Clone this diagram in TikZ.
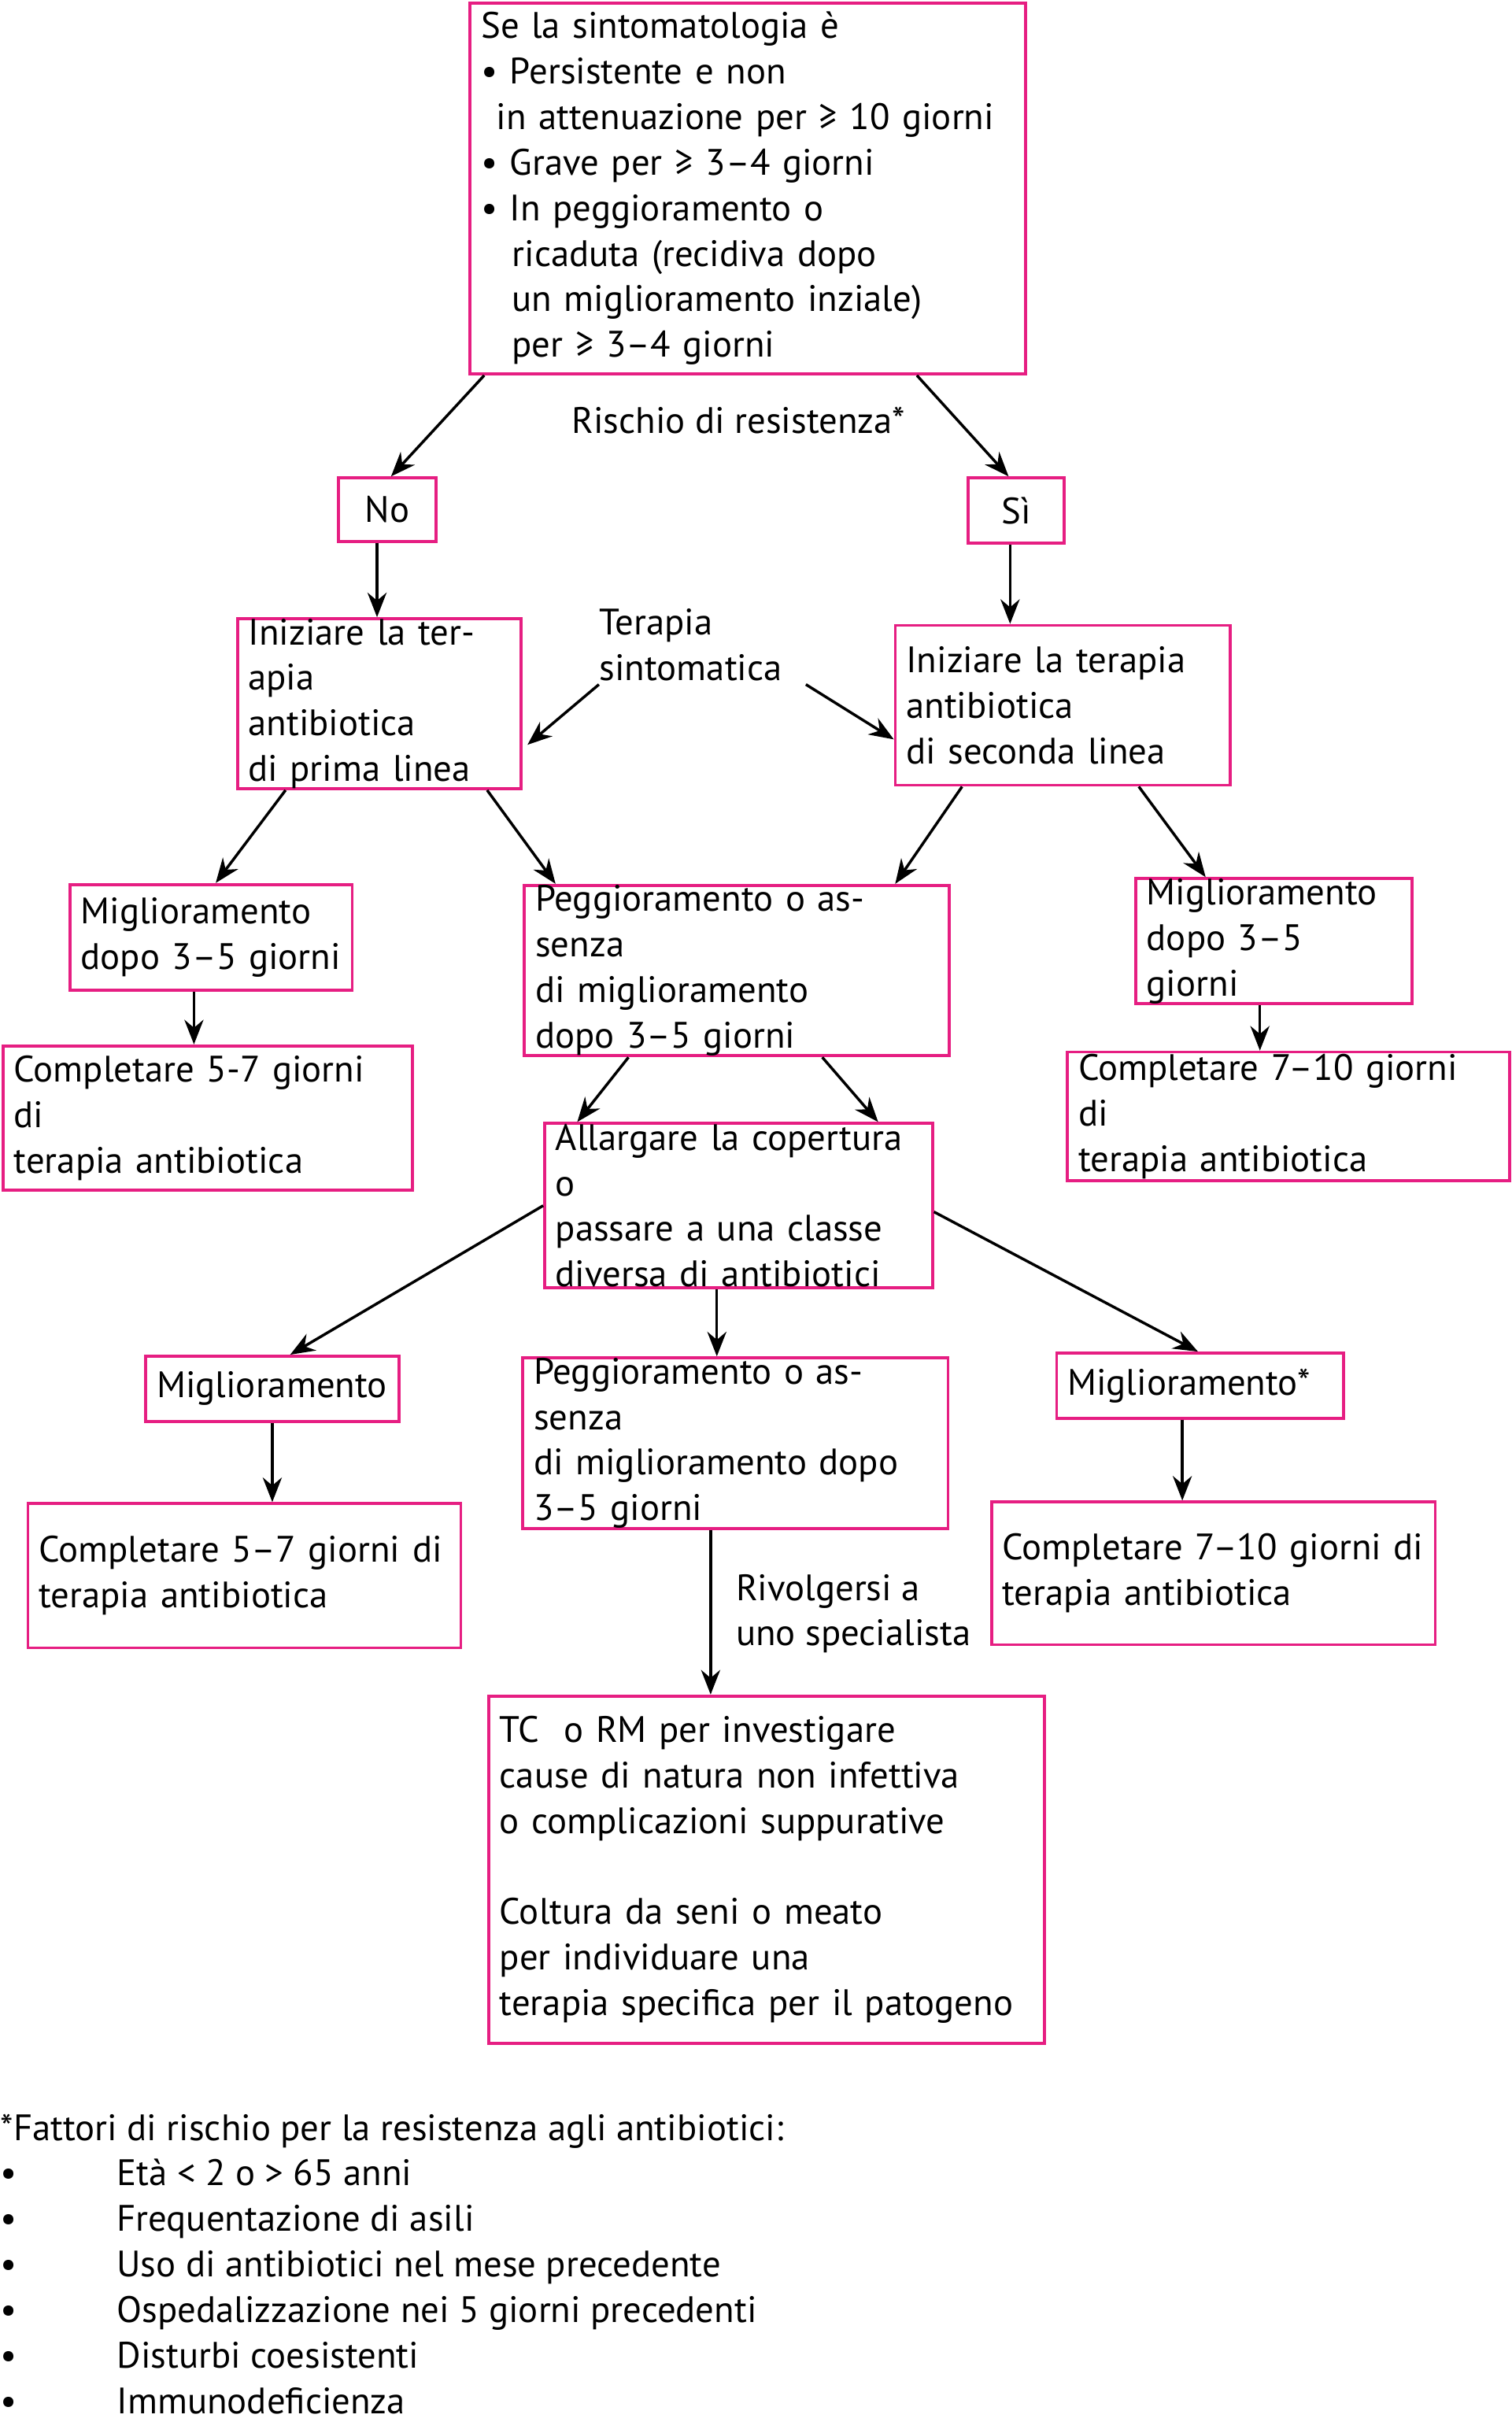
\documentclass[tikz,border=0pt]{standalone}
\usepackage{fontspec}
\setmainfont{PT Sans}
\usetikzlibrary{arrows.meta}
\definecolor{boxpink}{RGB}{230,30,130}

\begin{document}
\begin{tikzpicture}[
    x = 0.02cm, y = -0.02cm,
    font = \fontsize{13.5}{16.7}\selectfont,
    box/.style = {draw = boxpink, line width = 1.1pt,
      inner xsep = 0.14cm, inner ysep = 0pt, align = left},
    small/.style = {box, align = center},
    label/.style = {inner sep = 0pt, align = left},
    arr/.style = {line width = 1pt, -{Stealth[length = 9pt, width = 7pt]}},
    ]

    \useasboundingbox (0, 0) rectangle (974, 1568);

    % boxes
    \node at (482, 121.5) [box, text width = 6.88cm, minimum height = 4.78cm, name = top]
    {Se la sintomatologia è\\
      \textbullet\ Persistente e non\\
      \hspace*{0.2cm}in attenuazione per ≥ 10 giorni\\
      \textbullet\ Grave per ≥ 3–4 giorni\\
      \textbullet\ In peggioramento o\\
      \hspace*{0.4cm}ricaduta (recidiva dopo\\
      \hspace*{0.4cm}un miglioramento inziale)\\
      \hspace*{0.4cm}per ≥ 3–4 giorni};

    \node at (249.5, 328.5) [small, minimum width = 1.26cm, minimum height = 0.82cm, name = No] {No};
    \node at (655, 329) [small, minimum width = 1.24cm, minimum height = 0.84cm, name = Si] {Sì};

    \node at (244.5, 453.5) [box, text width = 3.38cm, minimum height = 2.02cm, name = L2]
    {Iniziare la terapia\\ antibiotica\\ di prima linea};
    \node at (685, 454.5) [box, text width = 4.04cm, minimum height = 2.06cm, name = R2]
    {Iniziare la terapia\\ antibiotica\\ di seconda linea};

    \node at (136, 604) [box, text width = 3.36cm, minimum height = 1.36cm, name = M1L]
    {Miglioramento\\ dopo 3–5 giorni};
    \node at (475, 625.5) [box, text width = 5.20cm, minimum height = 2.10cm, name = Mid]
    {Peggioramento o assenza\\ di miglioramento\\ dopo 3–5 giorni};
    \node at (821, 606.5) [box, text width = 3.28cm, minimum height = 1.38cm, name = M1R]
    {Miglioramento\\ dopo 3–5 giorni};

    \node at (134, 720.5) [box, text width = 5.00cm, minimum height = 1.86cm, name = C1L]
    {Completare 5-7 giorni di\\ terapia antibiotica};
    \node at (830.5, 719.5) [box, text width = 5.42cm, minimum height = 1.66cm, name = C1R]
    {Completare 7–10 giorni di\\ terapia antibiotica};

    \node at (476, 777) [box, text width = 4.72cm, minimum height = 2.12cm, name = Allarg]
    {Allargare la copertura o\\ passare a una classe\\ diversa di antibiotici};

    \node at (175.5, 895) [box, text width = 2.98cm, minimum height = 0.84cm, name = MigL]
    {Miglioramento};
    \node at (474, 930) [box, text width = 5.20cm, minimum height = 2.12cm, name = Pegg2]
    {Peggioramento o assenza\\ di miglioramento dopo\\ 3–5 giorni};
    \node at (773.5, 893) [box, text width = 3.42cm, minimum height = 0.84cm, name = MigR]
    {Miglioramento*};

    \node at (157.5, 1015.5) [box, text width = 5.30cm, minimum height = 1.86cm, name = C2L]
    {Completare 5–7 giorni di\\ terapia antibiotica};
    \node at (782, 1014) [box, text width = 5.44cm, minimum height = 1.84cm, name = C2R]
    {Completare 7–10 giorni di\\ terapia antibiotica};

    \node at (494, 1205) [box, text width = 6.88cm, minimum height = 4.48cm, name = TC]
    {TC\ \ o RM per investigare\\ cause di natura non infettiva\\ o complicazioni suppurative\\[16.7pt]
      Coltura da seni o meato\\ per individuare una\\ terapia specifica per il patogeno};

    % free texts
    \node at (476, 271) [label, name = rischio] {Rischio di resistenza*};
    \node at (386, 392) [label, anchor = north west, name = ter] {Terapia\\ sintomatica};
    \node at (474, 1040) [label, anchor = west, name = rivolg] {Rivolgersi a\\ uno specialista};

    \node at (0, 1362) [label, anchor = north west, name = note]
    {*Fattori di rischio per la resistenza agli antibiotici:\\
      \makebox[1.5cm][l]{\textbullet}Età < 2 o > 65 anni\\
      \makebox[1.5cm][l]{\textbullet}Frequentazione di asili\\
      \makebox[1.5cm][l]{\textbullet}Uso di antibiotici nel mese precedente\\
      \makebox[1.5cm][l]{\textbullet}Ospedalizzazione nei 5 giorni precedenti\\
      \makebox[1.5cm][l]{\textbullet}Disturbi coesistenti\\
      \makebox[1.5cm][l]{\textbullet}Immunodeficienza};

    % connectors
    \draw [arr] ([xshift = 0.2cm]top.south west) -- ([xshift = 0.7cm]No.north west);
    \draw [arr] ([xshift = -1.42cm]top.south east) -- ([xshift = 0.54cm]Si.north west);

    \coordinate (vNo) at ([xshift = -0.13cm]No.south);
    \draw [arr] (vNo) -- (vNo |- L2.north);
    \coordinate (vSi) at ([xshift = -0.08cm]Si.south);
    \draw [arr] (vSi) -- (vSi |- R2.north);

    \draw [arr] ([yshift = -0.04cm]ter.south west) -- ([xshift = 0.06cm, yshift = -0.53cm]L2.east);
    \draw [arr] ([xshift = 0.3cm, yshift = -0.04cm]ter.south east) -- ([yshift = -0.44cm]R2.west);

    \draw [arr] ([xshift = 0.64cm]L2.south west) -- ([xshift = 1.9cm]M1L.north west);
    \draw [arr] ([xshift = -0.46cm]L2.south east) -- ([xshift = 0.42cm]Mid.north west);
    \draw [arr] ([xshift = 0.88cm]R2.south west) -- ([xshift = -0.72cm]Mid.north east);
    \draw [arr] ([xshift = -1.2cm]R2.south east) -- ([xshift = 0.92cm]M1R.north west);

    \coordinate (vM1L) at ([xshift = -0.22cm]M1L.south);
    \draw [arr] (vM1L) -- (vM1L |- C1L.north);
    \coordinate (vM1R) at ([xshift = -0.18cm]M1R.south);
    \draw [arr] (vM1R) -- (vM1R |- C1R.north);

    \draw [arr] ([xshift = 1.36cm]Mid.south west) -- ([xshift = 0.44cm]Allarg.north west);
    \draw [arr] ([xshift = -1.66cm]Mid.south east) -- ([xshift = -0.72cm]Allarg.north east);

    \draw [arr] (Allarg.west) -- ([xshift = 1.88cm]MigL.north west);
    \draw [arr] ([yshift = -0.08cm]Allarg.east) -- ([xshift = 1.84cm]MigR.north west);
    \coordinate (vAl) at ([xshift = -0.28cm]Allarg.south);
    \draw [arr] (vAl) -- (vAl |- Pegg2.north);

    \draw [arr] (MigL.south) -- (MigL.south |- C2L.north);
    \coordinate (vMR) at ([xshift = -0.23cm]MigR.south);
    \draw [arr] (vMR) -- (vMR |- C2R.north);
    \coordinate (vPg) at ([xshift = -0.32cm]Pegg2.south);
    \draw [arr] (vPg) -- (vPg |- TC.north);
  \end{tikzpicture}
\end{document}
